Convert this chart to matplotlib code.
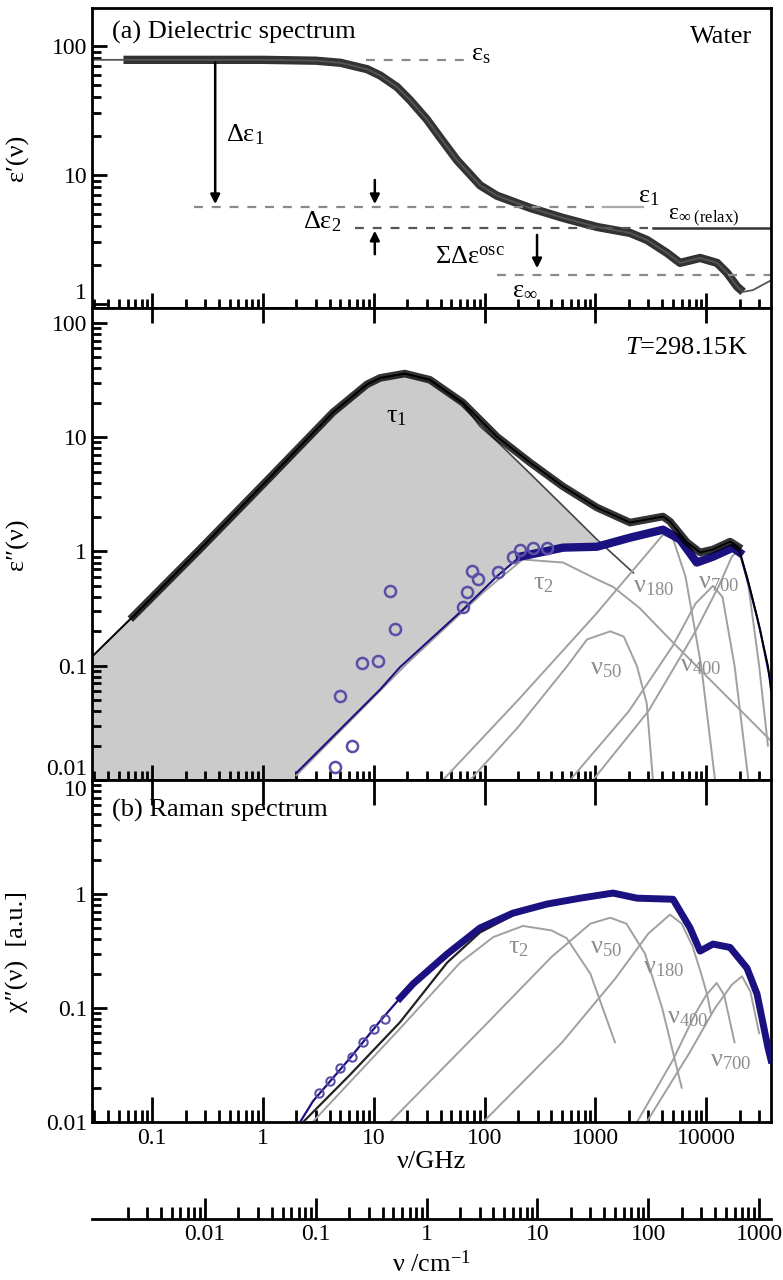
import numpy as np
import matplotlib
matplotlib.use("Agg")
import matplotlib.pyplot as plt
from matplotlib.ticker import LogLocator, FixedLocator, FuncFormatter, NullFormatter

plt.rcParams['font.family'] = ['Liberation Serif', 'DejaVu Serif']
plt.rcParams['mathtext.fontset'] = 'custom'
plt.rcParams['mathtext.rm'] = 'Liberation Serif'
plt.rcParams['mathtext.it'] = 'Liberation Serif:italic'

# frequency axis conversion (GHz per cm^-1)
ghz_per_wavenumber = 29.98
xlim = (0.0286, 38400)
ghz_ticks = [0.1, 1, 10, 100, 1000, 10000]
wn_ticks = [0.01, 0.1, 1, 10, 100, 1000]

# ---- panel (a): real part of permittivity ----
nu_eps1 = [0.0286, 0.055, 0.1, 1, 3, 5, 8.7, 11.4, 16.2, 21.2, 30, 39.6, 56.3, 91, 129,
           257, 510, 1030, 2050, 2920, 4430, 5800, 8800, 12500, 15400, 19000, 21500,
           26400, 36100, 38400]
eps1 = [78, 78, 78, 78, 76.8, 74, 66, 59, 48, 38, 27, 19.5, 13, 8.3, 6.9,
        5.55, 4.64, 3.95, 3.55, 3.13, 2.48, 2.08, 2.27, 2.08, 1.74, 1.36, 1.24,
        1.28, 1.48, 1.52]
eps_s = 78
eps_1 = 5.65
eps_inf_relax = 3.88
eps_inf = 1.68

# ---- middle panel: imaginary part ----
nu_eps2 = [0.0286, 0.067, 0.27, 1.09, 4.28, 8.68, 11.4, 19, 32, 63.8, 129, 257, 510,
           1033, 2051, 4070, 4700, 6710, 8790, 11500, 16400, 19400, 23300, 28700,
           36100, 38400]
eps2 = [0.12, 0.27, 1.05, 4.2, 16.5, 29, 33, 36, 31.8, 20, 10.1, 6.0, 3.7,
        2.42, 1.79, 2.02, 1.83, 1.2, 0.98, 1.04, 1.22, 1.1, 0.605, 0.27,
        0.099, 0.06]

nu_tau1 = [0.0286, 0.067, 0.27, 1.09, 4.28, 8.68, 11.4, 19, 32, 63.8, 91, 129, 257,
           510, 1033, 2200]
tau1 = [0.12, 0.27, 1.05, 4.2, 16.5, 29, 33, 36, 31.8, 19.5, 12.4, 9.2, 4.8,
        2.5, 1.27, 0.65]

nu_rest = [2.03, 11.4, 17.2, 63.8, 129, 208, 510, 1033, 2051, 4070, 5800, 8200,
           11500, 17400, 20000, 24800, 30500, 36100, 38400]
eps2_rest = [0.0117, 0.062, 0.097, 0.31, 0.605, 0.90, 1.08, 1.1, 1.32, 1.55, 1.27,
             0.80, 0.90, 1.08, 0.98, 0.466, 0.209, 0.093, 0.07]

nu_circ = [14.0, 15.5, 10.9, 7.83, 4.95, 6.36, 4.47, 63.8, 69.4, 76.9, 87.2, 132,
           180, 208, 273, 366]
eps2_circ = [0.448, 0.208, 0.109, 0.105, 0.054, 0.0198, 0.013, 0.324, 0.44, 0.67,
             0.57, 0.66, 0.90, 1.04, 1.07, 1.07]

# dielectric components
nu_d_tau2 = [2, 20, 100, 220, 510, 1030, 1442, 2500, 5000, 38400]
d_tau2 = [0.011, 0.105, 0.45, 0.85, 0.8, 0.57, 0.49, 0.32, 0.16, 0.022]
nu_d_50 = [74, 200, 554, 840, 1360, 1800, 2370, 2900, 3300]
d_50 = [0.01, 0.029, 0.099, 0.17, 0.2, 0.18, 0.099, 0.047, 0.01]
nu_d_180 = [42, 200, 1000, 2500, 4070, 5000, 6500, 9000, 12000]
d_180 = [0.01, 0.05, 0.28, 0.8, 1.4, 1.3, 0.6, 0.1, 0.01]
nu_d_400 = [590, 2000, 5000, 8000, 11500, 14000, 18000, 24000]
d_400 = [0.01, 0.04, 0.15, 0.35, 0.5, 0.4, 0.1, 0.01]
nu_d_700 = [950, 3000, 8000, 13000, 17000, 20000, 24000, 30000, 36000]
d_700 = [0.01, 0.04, 0.2, 0.5, 0.9, 1.05, 0.5, 0.1, 0.02]

# ---- panel (b): Raman susceptibility ----
nu_raman = [2.16, 2.83, 6.1, 11.4, 17.2, 22.6, 45.8, 90.8, 180, 366, 727, 1442, 2370,
            5010, 7140, 8790, 11500, 16400, 23300, 28700, 36100, 38400]
raman = [0.01, 0.0153, 0.0364, 0.077, 0.122, 0.163, 0.298, 0.504, 0.68, 0.817, 0.92,
         1.02, 0.92, 0.90, 0.504, 0.316, 0.364, 0.34, 0.224, 0.133, 0.0446, 0.035]
nu_rfit = [2.3, 6.1, 17.2, 45.8, 90.8, 180, 366, 727, 1442, 2370, 5010, 7140, 8790,
           11500, 16400, 23300, 28700, 36100, 38400]
rfit = [0.01, 0.026, 0.075, 0.25, 0.46, 0.65, 0.80, 0.90, 0.98, 0.92, 0.88, 0.52,
        0.33, 0.36, 0.33, 0.22, 0.13, 0.045, 0.033]
nu_rcirc = [3.2, 4.0, 5.0, 6.3, 8.0, 10.0, 12.5]
rcirc = [0.018, 0.023, 0.03, 0.037, 0.05, 0.065, 0.08]

nu_r_tau2 = [2.8, 17.2, 60, 120, 222, 400, 550, 900, 1500]
r_tau2 = [0.01, 0.066, 0.25, 0.42, 0.525, 0.48, 0.41, 0.2, 0.05]
nu_r_50 = [14, 100, 400, 900, 1360, 1900, 2800, 4000, 6000]
r_50 = [0.01, 0.07, 0.28, 0.55, 0.62, 0.55, 0.3, 0.1, 0.02]
nu_r_180 = [97, 500, 1500, 3000, 4700, 6000, 7500, 9000, 10200, 11000]
r_180 = [0.01, 0.05, 0.18, 0.45, 0.66, 0.55, 0.35, 0.2, 0.13, 0.09]
nu_r_400 = [2370, 5000, 8000, 10000, 12400, 14500, 18000]
r_400 = [0.01, 0.035, 0.09, 0.13, 0.166, 0.13, 0.05]
nu_r_700 = [2900, 7000, 12000, 17000, 21000, 25000, 30000]
r_700 = [0.01, 0.04, 0.1, 0.16, 0.19, 0.14, 0.06]

navy = '#1b1180'
circ_col = '#5a4fa6'
comp_col = '#a0a0a0'
fs_tick = 17
fs_text = 19

fig = plt.figure(figsize=(7.83, 12.8), dpi=100)
L, W = 0.1175, 0.8672
ax_a = fig.add_axes([L, 0.7594, W, 0.2344])
ax_b = fig.add_axes([L, 0.3906, W, 0.3688])
ax_c = fig.add_axes([L, 0.1234, W, 0.2672])
ax_w = fig.add_axes([L, 0.0477, W, 0.0005])


def log_fmt(v, pos):
    return '%g' % v


y_majors = {ax_a: [1, 10, 100], ax_b: [0.01, 0.1, 1, 10, 100], ax_c: [0.01, 0.1, 1, 10]}
for ax in (ax_a, ax_b, ax_c):
    ax.set_xscale('log')
    ax.set_yscale('log')
    ax.set_xlim(*xlim)
    for s in ax.spines.values():
        s.set_linewidth(2)
    ax.xaxis.set_major_locator(FixedLocator(ghz_ticks))
    ax.xaxis.set_minor_locator(LogLocator(base=10, subs=np.arange(2, 10), numticks=20))
    ax.yaxis.set_major_locator(FixedLocator(y_majors[ax]))
    ax.yaxis.set_minor_locator(LogLocator(base=10, subs=np.arange(2, 10), numticks=20))
    ax.yaxis.set_major_formatter(FuncFormatter(log_fmt))
    ax.yaxis.set_minor_formatter(NullFormatter())
    ax.xaxis.set_minor_formatter(NullFormatter())
    ax.tick_params(which='both', direction='in', width=2, labelsize=fs_tick,
                   left=True, right=False, bottom=True)
    ax.tick_params(which='major', length=11)
    ax.tick_params(which='minor', length=6.5)

ax_a.tick_params(axis='x', top=False, labelbottom=False)
ax_b.tick_params(axis='x', top=True, labelbottom=False)
ax_c.tick_params(axis='x', top=True)
ax_c.tick_params(axis='x', which='major', length=18, pad=4)
ax_c.tick_params(axis='x', which='minor', length=9)
ax_c.xaxis.set_major_formatter(FuncFormatter(log_fmt))

ax_a.set_ylim(0.93, 197)
ax_b.set_ylim(0.01, 135)
ax_c.set_ylim(0.01, 10)

# keep the labels at the panel joins apart
ax_a.yaxis.get_major_ticks()[0].label1.set_verticalalignment('bottom')
ax_b.yaxis.get_major_ticks()[0].label1.set_verticalalignment('bottom')
ax_c.yaxis.get_major_ticks()[-1].label1.set_verticalalignment('top')

# ---- panel (a) ----
nu1 = np.array(nu_eps1)
e1 = np.array(eps1)
band = (nu1 >= 0.055) & (nu1 <= 21500)
ax_a.plot(nu1[band], e1[band], color='black', lw=6, alpha=0.8, solid_capstyle='butt')
ax_a.plot(nu1, e1, color='#555555', lw=1.3)
dash = dict(color='#8a8a8a', lw=1.6, ls=(0, (4, 4)))
ax_a.plot([8.5, 70], [eps_s, eps_s], **dash)
ax_a.plot([0.24, 1170], [eps_1, eps_1], **dash)
ax_a.plot([1170, 2700], [eps_1, eps_1], color='#aaaaaa', lw=1.6)
ax_a.plot([6.8, 3000], [eps_inf_relax, eps_inf_relax], color='#555555', lw=1.6, ls=(0, (4, 4)))
ax_a.plot([3300, xlim[1]], [eps_inf_relax, eps_inf_relax], color='#333333', lw=1.8)
ax_a.plot([130, xlim[1]], [eps_inf, eps_inf], **dash)

arr = dict(arrowstyle='-|>', color='black', lw=1.8, mutation_scale=14)
ax_a.annotate('', xy=(0.37, eps_1), xytext=(0.37, eps_s), arrowprops=arr)
ax_a.annotate('', xy=(10.2, eps_1), xytext=(10.2, 9.6), arrowprops=arr)
ax_a.annotate('', xy=(10.2, eps_inf_relax), xytext=(10.2, 2.31), arrowprops=arr)
ax_a.annotate('', xy=(297, 1.8), xytext=(297, 3.6), arrowprops=arr)

ax_a.text(0.029, 0.917, '(a) Dielectric spectrum', transform=ax_a.transAxes,
          fontsize=fs_text, va='center', ha='left')
ax_a.text(0.972, 0.903, 'Water', transform=ax_a.transAxes, fontsize=fs_text,
          va='center', ha='right')
ax_a.text(75, 85, r'$\mathrm{ε}_\mathrm{s}$', fontsize=fs_text, va='center')
ax_a.text(0.46, 20.4, r'$\mathrm{Δε}_1$', fontsize=fs_text, va='center')
ax_a.text(2.3, 4.32, r'$\mathrm{Δε}_2$', fontsize=fs_text, va='center')
ax_a.text(2420, 6.75, r'$\mathrm{ε}_1$', fontsize=fs_text, va='center')
ax_a.text(4520, 4.64, r'$\mathrm{ε}_{\mathrm{∞\ (relax)}}$', fontsize=fs_text - 2,
          va='center')
ax_a.text(35.7, 2.27, r'$\mathrm{ΣΔε}^{\mathrm{osc}}$', fontsize=fs_text, va='center')
ax_a.text(177, 1.29, r'$\mathrm{ε}_{\mathrm{∞}}$', fontsize=fs_text, va='center')
ax_a.set_ylabel('ε′(ν)', fontsize=fs_text)
ax_a.yaxis.set_label_coords(-0.093, 0.5)

# ---- middle panel ----
t_nu = np.array(nu_tau1)
t_val = np.array(tau1)
r_nu = np.array(nu_rest)
r_val = np.array(eps2_rest)
lo = ax_b.get_ylim()[0]
keep_t = t_nu <= 1033
keep_r = r_nu <= 1033
poly_x = np.concatenate([t_nu[keep_t], r_nu[keep_r][::-1], [r_nu[0], t_nu[0]]])
poly_y = np.concatenate([t_val[keep_t], r_val[keep_r][::-1], [lo, lo]])
ax_b.fill(poly_x, poly_y, color='#cbcbcb', lw=0, zorder=1)
ax_b.plot(t_nu, t_val, color='#444444', lw=1.2, zorder=2)

for nu_c, val_c in [(nu_d_tau2, d_tau2), (nu_d_50, d_50), (nu_d_180, d_180),
                    (nu_d_400, d_400), (nu_d_700, d_700)]:
    ax_b.plot(nu_c, val_c, color=comp_col, lw=1.4, zorder=2)

n2 = np.array(nu_eps2)
e2 = np.array(eps2)
band2 = (n2 >= 0.06) & (n2 <= 19400)
ax_b.plot(n2[band2], e2[band2], color='black', lw=5.5, alpha=0.8, zorder=4)
ax_b.plot(n2, e2, color='black', lw=1.3, zorder=4)
bandr = (r_nu >= 200) & (r_nu <= 20000)
ax_b.plot(r_nu, r_val, color=navy, lw=1.5, zorder=3)
ax_b.plot(r_nu[bandr], r_val[bandr], color=navy, lw=6, zorder=3)
ax_b.plot(nu_circ, eps2_circ, 'o', mfc='none', mec=circ_col, mew=1.8, ms=8, zorder=5)

ax_b.text(0.966, 0.915, r'$T$=298.15K', transform=ax_b.transAxes, fontsize=fs_text,
          va='center', ha='right')
ax_b.text(13, 15.1, r'$\mathrm{τ}_1$', fontsize=fs_text, va='center')
for xt, yt, lab in [(273, 0.515, r'$\mathrm{τ}_2$'), (2185, 0.49, r'$\mathrm{ν}_{180}$'),
                    (8430, 0.53, r'$\mathrm{ν}_{700}$'), (894, 0.093, r'$\mathrm{ν}_{50}$'),
                    (5800, 0.099, r'$\mathrm{ν}_{400}$')]:
    ax_b.text(xt, yt, lab, fontsize=fs_text, va='center', color='#8c8c8c')
ax_b.set_ylabel('ε″(ν)', fontsize=fs_text)
ax_b.yaxis.set_label_coords(-0.093, 0.5)

# ---- panel (b) ----
for nu_c, val_c in [(nu_r_tau2, r_tau2), (nu_r_50, r_50), (nu_r_180, r_180),
                    (nu_r_400, r_400), (nu_r_700, r_700)]:
    ax_c.plot(nu_c, val_c, color=comp_col, lw=1.4, zorder=2)
ax_c.plot(nu_rfit, rfit, color='#222222', lw=1.6, zorder=3)
rn = np.array(nu_raman)
rv = np.array(raman)
bandc = rn >= 17
ax_c.plot(rn, rv, color=navy, lw=1.6, zorder=4)
ax_c.plot(rn[bandc], rv[bandc], color=navy, lw=5, zorder=4)
ax_c.plot(nu_rcirc, rcirc, 'o', mfc='none', mec=circ_col, mew=1.5, ms=6, zorder=5)

ax_c.text(0.029, 0.912, '(b) Raman spectrum', transform=ax_c.transAxes,
          fontsize=fs_text, va='center', ha='left')
for xt, yt, lab in [(163, 0.336, r'$\mathrm{τ}_2$'), (894, 0.336, r'$\mathrm{ν}_{50}$'),
                    (2690, 0.224, r'$\mathrm{ν}_{180}$'), (4430, 0.082, r'$\mathrm{ν}_{400}$'),
                    (10800, 0.034, r'$\mathrm{ν}_{700}$')]:
    ax_c.text(xt, yt, lab, fontsize=fs_text, va='center', color='#8c8c8c')
ax_c.set_ylabel('χ″(ν)  [a.u.]', fontsize=fs_text)
ax_c.yaxis.set_label_coords(-0.093, 0.5)
ax_c.set_xlabel('ν/GHz', fontsize=fs_text, labelpad=2)

# ---- wavenumber axis ----
ax_w.set_xscale('log')
ax_w.set_xlim(xlim[0] / ghz_per_wavenumber, xlim[1] / ghz_per_wavenumber)
for side in ('top', 'left', 'right'):
    ax_w.spines[side].set_visible(False)
ax_w.spines['bottom'].set_linewidth(2)
ax_w.set_yticks([])
ax_w.patch.set_visible(False)
ax_w.xaxis.set_major_locator(FixedLocator(wn_ticks))
ax_w.xaxis.set_minor_locator(LogLocator(base=10, subs=np.arange(2, 10), numticks=20))
ax_w.xaxis.set_major_formatter(FuncFormatter(log_fmt))
ax_w.xaxis.set_minor_formatter(NullFormatter())
ax_w.tick_params(which='both', direction='in', width=2, labelsize=fs_tick)
ax_w.tick_params(which='major', length=15)
ax_w.tick_params(which='minor', length=9)
ax_w.set_xlabel(r'$\mathrm{ν\ /cm^{-1}}$', fontsize=fs_text, labelpad=4)

fig.savefig('out.png', dpi=100)
